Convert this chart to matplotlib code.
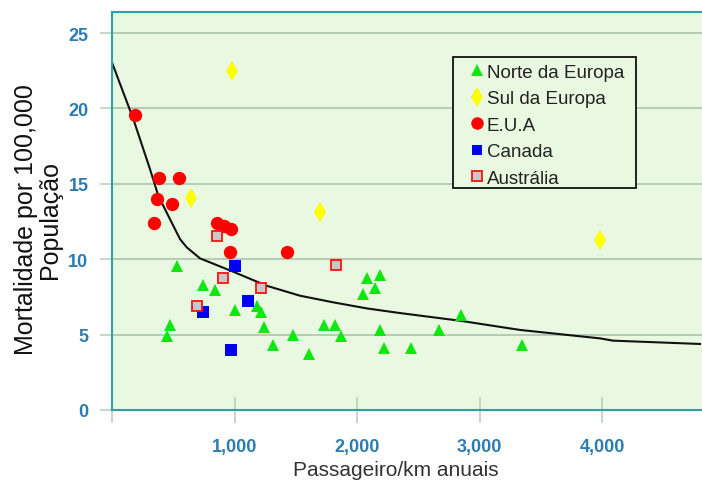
import matplotlib
matplotlib.use("Agg")
import matplotlib.pyplot as plt
from matplotlib.lines import Line2D
from matplotlib.patches import Rectangle

plt.rcParams['font.family'] = ['Liberation Sans', 'DejaVu Sans']

# ---- data ----
norte_x = [533, 740, 843, 1007, 1186, 1214, 473, 451, 1241, 1317, 1480, 1611,
           1731, 1823, 1867, 2079, 2188, 2149, 2051, 2188, 2220, 2438, 2667,
           2847, 3344]
norte_y = [9.57, 8.29, 7.98, 6.65, 6.88, 6.48, 5.64, 4.93, 5.48, 4.33, 4.95,
           3.69, 5.64, 5.64, 4.93, 8.73, 8.95, 8.11, 7.69, 5.32, 4.11, 4.11,
           5.32, 6.30, 4.33]

sul_x = [982, 642, 1698, 3984]
sul_y = [22.5, 14.06, 13.15, 11.27]

eua_x = [188, 381, 547, 365, 492, 346, 855, 914, 969, 963, 1426]
eua_y = [19.56, 15.36, 15.36, 13.97, 13.66, 12.40, 12.40, 12.18, 12.0, 10.46, 10.46]

canada_x = [1004, 1113, 740, 969]
canada_y = [9.57, 7.25, 6.52, 4.0]

aus_x = [860, 909, 697, 1214, 1829]
aus_y = [11.52, 8.73, 6.92, 8.07, 9.62]

curve_x = [0, 174, 310, 378, 446, 555, 610, 718, 990, 1263, 1535, 1807, 2079,
           2351, 2841, 3331, 3984, 4090, 4800]
curve_y = [23.05, 19.3, 15.98, 14.21, 13.1, 11.34, 10.79, 10.06, 9.17, 8.24,
           7.58, 7.14, 6.74, 6.43, 5.92, 5.31, 4.75, 4.6, 4.38]

xticks = [0, 1000, 2000, 3000, 4000]
xtick_labels = ['', '1,000', '2,000', '3,000', '4,000']
yticks = [0, 5, 10, 15, 20, 25]
ytick_labels = ['0', '5', '10', '15', '20', '25']

series_labels = ['Norte da Europa', 'Sul da Europa', 'E.U.A', 'Canada', 'Austrália']

# ---- figure ----
W, H = 702, 481
fig = plt.figure(figsize=(W / 100, H / 100), dpi=100)
ax = fig.add_axes([112 / W, 70 / H, (W - 112) / W, (411 - 13) / H])
bg = '#e9f8e1'
ax.set_facecolor(bg)
ax.set_xlim(0, 4816)
ax.set_ylim(0, 26.4)

teal = '#24a4a4'
for s in ['left', 'top', 'bottom']:
    ax.spines[s].set_color(teal)
    ax.spines[s].set_linewidth(1.5)
ax.spines['right'].set_visible(False)

ax.set_yticks(yticks)
ax.set_yticklabels(ytick_labels)
ax.set_xticks(xticks)
ax.set_xticklabels(xtick_labels)
ax.yaxis.grid(True, color='#b2c8b2', linewidth=1.3)
ax.set_axisbelow(True)

lab_col = '#2c7cb0'
ax.tick_params(axis='y', direction='out', length=9, width=1.1, color='#b8ccb8',
               pad=8, labelsize=13, labelcolor=lab_col)
ax.tick_params(axis='x', direction='inout', length=19, width=1.1, color='#b8ccb8',
               pad=11, labelsize=13, labelcolor=lab_col)
for t in ax.get_xticklabels() + ax.get_yticklabels():
    t.set_fontweight('bold')

ax.plot(curve_x, curve_y, color='#111111', linewidth=1.5, zorder=2)

ax.plot(norte_x, norte_y, linestyle='none', marker='^', markersize=8.8,
        color='#11e611', markeredgewidth=0, zorder=3)
ax.plot(sul_x, sul_y, linestyle='none', marker='d', markersize=10.5,
        color='#ffff00', markeredgewidth=0, zorder=3)
ax.plot(eua_x, eua_y, linestyle='none', marker='o', markersize=9.6,
        color='#ff0000', markeredgewidth=0, zorder=3)
ax.plot(canada_x, canada_y, linestyle='none', marker='s', markersize=8,
        color='#0000f0', markeredgewidth=0, zorder=3)
ax.plot(aus_x, aus_y, linestyle='none', marker='s', markersize=7.5,
        markerfacecolor='#c8c8c8', markeredgecolor='#ff1010',
        markeredgewidth=1.3, zorder=3)

handles = [
    Line2D([], [], linestyle='none', marker='^', markersize=8, color='#11e611', markeredgewidth=0),
    Line2D([], [], linestyle='none', marker='d', markersize=10, color='#ffff00', markeredgewidth=0),
    Line2D([], [], linestyle='none', marker='o', markersize=9, color='#ff0000', markeredgewidth=0),
    Line2D([], [], linestyle='none', marker='s', markersize=7.5, color='#0000f0', markeredgewidth=0),
    Line2D([], [], linestyle='none', marker='s', markersize=7.5, markerfacecolor='#c8c8c8',
           markeredgecolor='#ff1010', markeredgewidth=1.3),
]

# legend frame drawn as a separate box
box = Rectangle((453 / W, 1 - 189 / H), (636 - 453) / W, (189 - 58) / H,
                transform=fig.transFigure, facecolor=bg, edgecolor='#111111',
                linewidth=1.3, zorder=4)
ax.add_patch(box)
box.set_clip_on(False)

leg = fig.legend(handles, series_labels, loc='upper left',
                 bbox_to_anchor=(469.5 / W, 1 - 64.5 / H),
                 bbox_transform=fig.transFigure,
                 borderaxespad=0, borderpad=0, fontsize=13.5, frameon=False,
                 handlelength=0.8, handletextpad=0.12, labelspacing=0.5)
leg.set_zorder(5)
for t in leg.get_texts():
    t.set_color('#222222')

fig.text(396 / W, 1 - 471 / H, 'Passageiro/km anuais', ha='center', va='center',
         fontsize=15, color='#333333')
fig.text(38 / W, 1 - 220 / H, 'Mortalidade por 100,000\nPopulação', ha='center',
         va='center', rotation=90, fontsize=18, color='#111111', linespacing=1.05,
         multialignment='center')

fig.savefig('out.png', dpi=100)
